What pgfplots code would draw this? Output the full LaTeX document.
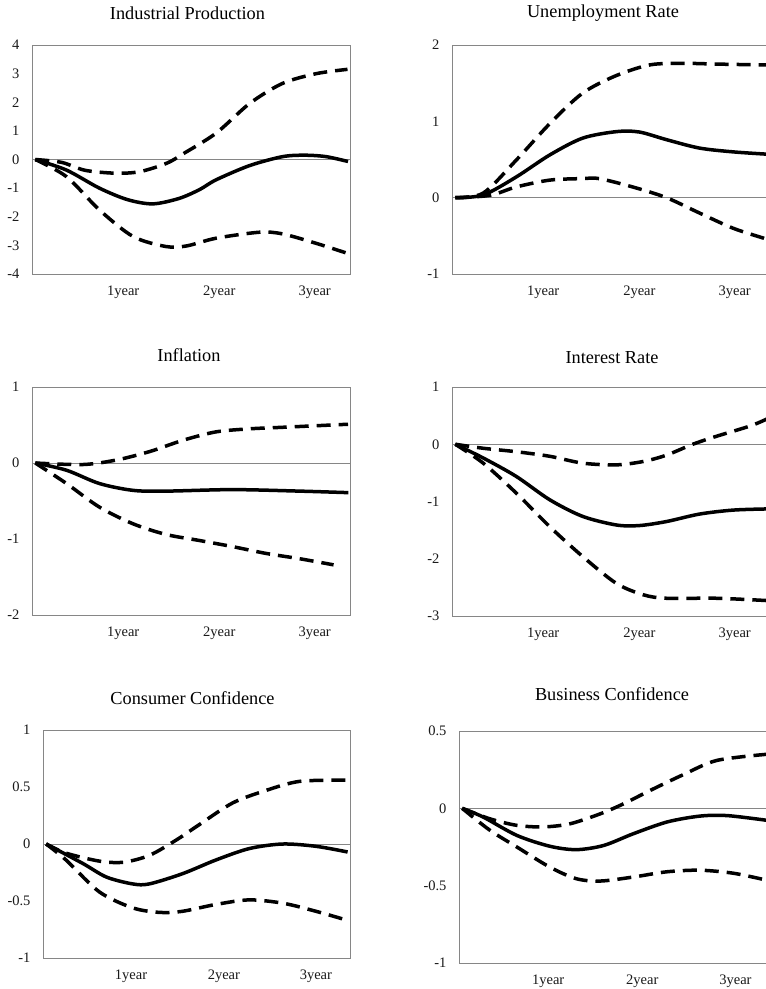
\documentclass[border=0pt]{standalone}
\usepackage{pgfplots}
\pgfplotsset{compat=1.18}
\usepackage{fontspec}
\setmainfont{Liberation Serif}
\definecolor{axgray}{RGB}{134,134,134}
\pgfplotsset{
  irf/.style={
    scale only axis,
    xmin=-0.4, xmax=38.3,
    axis line style={draw=axgray, line width=0.9pt},
    major tick length=0pt,
    xtick={10.7,22.4,34.0},
    xticklabels={1year,2year,3year},
    tick label style={font=\fontsize{14.5}{16}\selectfont, text=black!90},
    xticklabel style={yshift=-8pt},
    yticklabel style={xshift=-9pt},
    anchor=north west,
  },
  mid/.style={black, line width=3.5pt, smooth},
  band/.style={black, line width=3.5pt, smooth, dash pattern=on 14pt off 8pt},
  zero/.style={axgray, line width=0.9pt},
}
\begin{document}
\begin{tikzpicture}[x=1pt,y=1pt]
\def\tfont{\fontsize{18.3}{20}\selectfont}
% Panel 1: Industrial Production
\begin{axis}[irf, at={(32pt,-45pt)}, width=318pt, height=229pt,
  ymin=-4, ymax=4, ytick={-4,-3,-2,-1,0,1,2,3,4}, yticklabels={-4,-3,-2,-1,0,1,2,3,4}]
\addplot[zero] coordinates {(-0.4,0) (38.3,0)};
\addplot[mid] coordinates {(0,0) (3.8,-0.37) (7.8,-1.0) (11.2,-1.4) (14.3,-1.55) (17.5,-1.36) (20,-1.05) (22,-0.71) (26.1,-0.21) (30.1,0.1) (32.8,0.15) (35.4,0.1) (38.06,-0.07)};
\addplot[band] coordinates {(0,0) (3.2,-0.1) (6.1,-0.38) (9.9,-0.48) (12.8,-0.42) (16,-0.13) (18,0.2) (22,0.92) (26.1,1.96) (30.1,2.66) (34.2,3.0) (38,3.15)};
\addplot[band] coordinates {(0,0) (3.8,-0.6) (7.8,-1.76) (11.9,-2.69) (15.9,-3.04) (18.4,-3.02) (22,-2.75) (27.3,-2.54) (30.1,-2.6) (34.2,-2.93) (38,-3.28)};
\end{axis}
\node[font=\tfont] at (187.5,-13) {Industrial Production};
% Panel 2: Unemployment Rate
\begin{axis}[irf, at={(452pt,-45pt)}, width=318pt, height=229pt,
  ymin=-1, ymax=2, ytick={-1,0,1,2}, yticklabels={-1,0,1,2}]
\addplot[zero] coordinates {(-0.4,0) (38.3,0)};
\addplot[mid] coordinates {(0,0) (3.4,0.035) (7.4,0.27) (11.5,0.56) (15.5,0.78) (19.6,0.865) (22.4,0.86) (25.7,0.76) (29.7,0.65) (33.8,0.6) (37.9,0.57)};
\addplot[band] coordinates {(0,0) (3.4,0.06) (7.4,0.49) (11.5,0.97) (15.5,1.37) (19.6,1.6) (23.7,1.74) (27.7,1.76) (31.8,1.75) (37,1.74) (38,1.74)};
\addplot[band] coordinates {(0,0) (4.2,0.03) (7.4,0.14) (11.5,0.23) (15.5,0.25) (17.5,0.25) (21.6,0.14) (25.7,0) (29.7,-0.2) (33.8,-0.4) (37.5,-0.53) (38,-0.55)};
\end{axis}
\node[font=\tfont] at (603,-13) {Unemployment Rate};
% Panel 3: Inflation
\begin{axis}[irf, at={(32pt,-387pt)}, width=318pt, height=228pt,
  ymin=-2, ymax=1, ytick={-2,-1,0,1}, yticklabels={-2,-1,0,1}]
\addplot[zero] coordinates {(-0.4,0) (38.3,0)};
\addplot[mid] coordinates {(0,0) (3.8,-0.095) (7.8,-0.27) (11.9,-0.36) (15.9,-0.37) (24,-0.35) (32.2,-0.37) (38.1,-0.39)};
\addplot[band] coordinates {(0,0) (5.8,-0.02) (9.9,0.04) (13.9,0.15) (18,0.3) (22,0.41) (26.1,0.45) (30.1,0.47) (38.06,0.51)};
\addplot[band] coordinates {(0,0) (3.8,-0.27) (7.8,-0.58) (11.9,-0.8) (15.9,-0.94) (20,-1.02) (24,-1.1) (28.1,-1.19) (32.2,-1.26) (36.3,-1.34)};
\end{axis}
\node[font=\tfont] at (189,-355) {Inflation};
% Panel 4: Interest Rate
\begin{axis}[irf, at={(452pt,-387pt)}, width=318pt, height=229pt,
  ymin=-3, ymax=1, ytick={-3,-2,-1,0,1}, yticklabels={-3,-2,-1,0,1}]
\addplot[zero] coordinates {(-0.4,0) (38.3,0)};
\addplot[mid] coordinates {(0,0) (3.4,-0.24) (7.4,-0.56) (11.5,-0.97) (15.5,-1.26) (19.6,-1.41) (22.4,-1.42) (25.7,-1.35) (29.7,-1.22) (33.8,-1.15) (37.9,-1.13)};
\addplot[band] coordinates {(0,0) (3.4,-0.07) (7.4,-0.13) (11.5,-0.21) (15.5,-0.33) (19.6,-0.36) (22.9,-0.3) (25.7,-0.19) (28.9,0) (31.8,0.14) (35.9,0.32) (37.9,0.44)};
\addplot[band] coordinates {(0,0) (3.4,-0.33) (7.4,-0.85) (11.5,-1.44) (15.5,-1.96) (19.6,-2.43) (22.9,-2.63) (25.7,-2.69) (31.8,-2.69) (37.9,-2.73)};
\end{axis}
\node[font=\tfont] at (612,-358) {Interest Rate};
% Panel 5: Consumer Confidence
\begin{axis}[irf, at={(43pt,-730pt)}, width=307pt, height=228pt,
  ymin=-1, ymax=1, ytick={-1,-0.5,0,0.5,1}, yticklabels={-1,-0.5,0,0.5,1}]
\addplot[zero] coordinates {(-0.4,0) (38.3,0)};
\addplot[mid] coordinates {(0,0) (4.6,-0.17) (7.6,-0.29) (10.9,-0.35) (13,-0.35) (17.2,-0.26) (21.4,-0.14) (25.6,-0.04) (29.8,0) (34,-0.02) (38,-0.07)};
\addplot[band] coordinates {(0,0) (2.5,-0.08) (6.7,-0.15) (9.7,-0.16) (13,-0.1) (16.4,0.035) (19.3,0.17) (23.5,0.36) (27.7,0.47) (32,0.55) (38,0.56)};
\addplot[band] coordinates {(0,0) (2.5,-0.14) (6.7,-0.42) (10.9,-0.56) (14.3,-0.6) (17.2,-0.59) (21.4,-0.53) (25.6,-0.49) (29.9,-0.52) (34,-0.59) (38,-0.67)};
\end{axis}
\node[font=\tfont] at (192.5,-698) {Consumer Confidence};
% Panel 6: Business Confidence
\begin{axis}[irf, at={(459pt,-731pt)}, width=311pt, height=232pt,
  ymin=-1, ymax=0.5, ytick={-1,-0.5,0,0.5}, yticklabels={-1,-0.5,0,0.5}]
\addplot[zero] coordinates {(-0.4,0) (38.3,0)};
\addplot[mid] coordinates {(0,0) (2.6,-0.056) (6.8,-0.175) (10.9,-0.245) (14.2,-0.267) (17.6,-0.24) (21.3,-0.164) (25.5,-0.088) (29.6,-0.05) (33,-0.047) (38,-0.078)};
\addplot[band] coordinates {(0,0) (3.4,-0.067) (6.8,-0.11) (10.1,-0.12) (13.4,-0.1) (17.2,-0.035) (20.1,0.03) (23.4,0.116) (27.6,0.22) (31.7,0.31) (38,0.35)};
\addplot[band] coordinates {(0,0) (3.4,-0.14) (6.8,-0.25) (10.9,-0.38) (14.2,-0.455) (17.2,-0.47) (21.3,-0.444) (25.5,-0.41) (29.6,-0.4) (33.8,-0.42) (38,-0.466)};
\end{axis}
\node[font=\tfont] at (612,-694) {Business Confidence};
\pgfresetboundingbox
\path[use as bounding box] (0,0) rectangle (766,-989);
\end{tikzpicture}
\end{document}
